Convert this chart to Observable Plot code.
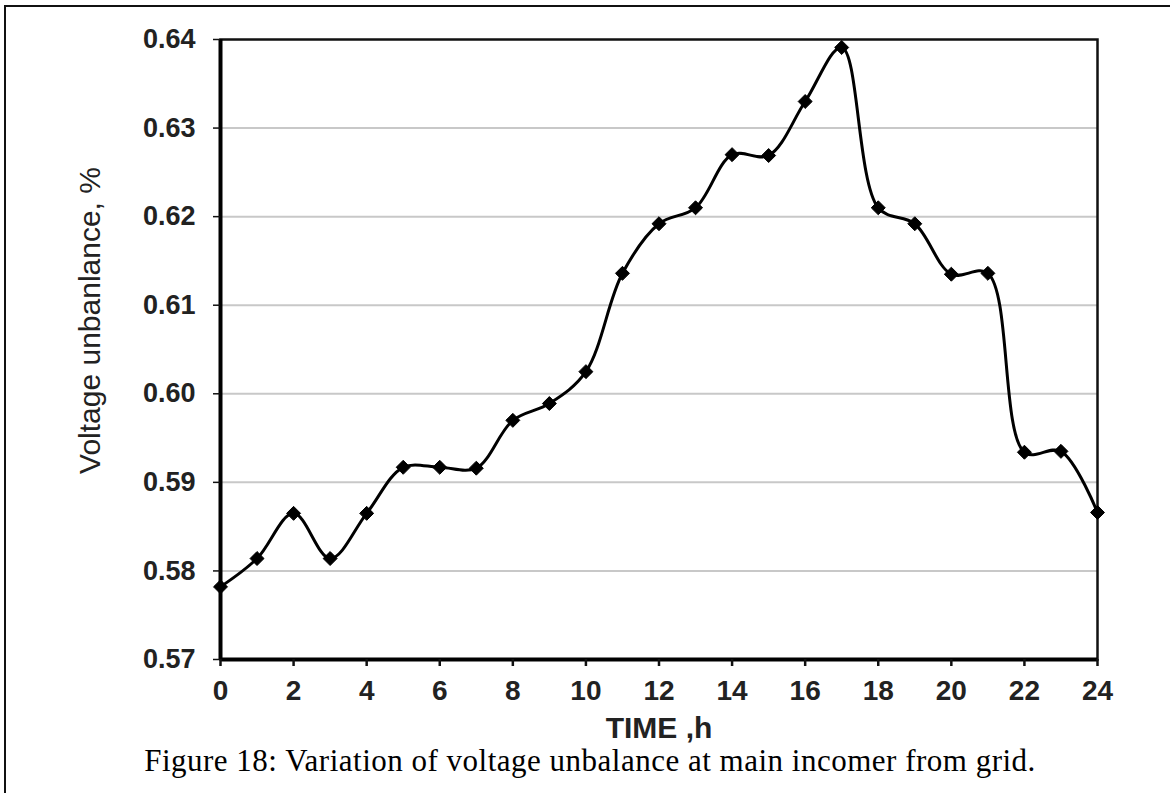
<!DOCTYPE html>
<html>
<head>
<meta charset="utf-8">
<script src="https://cdn.jsdelivr.net/npm/d3@7"></script>
<script src="https://cdn.jsdelivr.net/npm/@observablehq/plot@0.6"></script>
<style>
  html, body { margin: 0; padding: 0; background: #fff; }
  #page { position: relative; width: 1170px; height: 793px; overflow: hidden; }
  #border { position: absolute; left: 4px; top: 5px; width: 1200px; height: 900px;
            border-left: 2px solid #111; border-top: 2px solid #111; }
  #chart { position: absolute; left: 0; top: 0; }
  #caption { position: absolute; left: 10px; top: 745px; width: 1160px; text-align: center;
             font-family: "Liberation Serif", "Times New Roman", serif; font-size: 31px;
             letter-spacing: 0.5px; line-height: 31px; color: #000; white-space: nowrap; }
</style>
</head>
<body>
<div id="page">
  <div id="border"></div>
  <div id="chart"></div>
  <div id="caption">Figure 18: Variation of voltage unbalance at main incomer from grid.</div>
</div>
<script>
// Hourly readings of voltage unbalance (%) over one day
const hours = d3.range(0, 25);
const unbalance = [
  0.5782, 0.5814, 0.5865, 0.5814, 0.5865, 0.5917, 0.5917, 0.5916, 0.5970,
  0.5989, 0.6025, 0.6136, 0.6192, 0.6210, 0.6270, 0.6269, 0.6330, 0.6391,
  0.6210, 0.6192, 0.6135, 0.6136, 0.5934, 0.5935, 0.5866
];
const xTicks = [0, 2, 4, 6, 8, 10, 12, 14, 16, 18, 20, 22, 24];
const yTicks = [0.57, 0.58, 0.59, 0.60, 0.61, 0.62, 0.63, 0.64];
const gridLines = [0.58, 0.59, 0.60, 0.61, 0.62, 0.63];
const xTitle = "TIME ,h";
const yTitle = "Voltage unbanlance, %";

const data = hours.map((h, i) => ({hour: h, value: unbalance[i]}));
const sans = "'Liberation Sans', Arial, Helvetica, sans-serif";

const chart = Plot.plot({
  width: 1170,
  height: 749,
  marginLeft: 220,
  marginRight: 73,
  marginTop: 39,
  marginBottom: 90,
  style: {fontFamily: sans, fontSize: "27px", color: "#222", background: "transparent"},
  x: {domain: [0, 24]},
  y: {domain: [0.57, 0.64]},
  marks: [
    Plot.ruleY(gridLines, {stroke: "#c8c8c8", strokeWidth: 2}),
    Plot.frame({stroke: "#111", strokeWidth: 2.5}),
    Plot.ruleX([0], {stroke: "#000", strokeWidth: 4}),
    Plot.ruleY([0.57], {stroke: "#000", strokeWidth: 4}),
    Plot.axisX({ticks: xTicks, tickSize: 7, tickPadding: 14, tickFormat: d3.format("d"),
                label: null, fontWeight: "bold", fontSize: 28, stroke: "#111", strokeWidth: 2.5}),
    Plot.axisY({ticks: yTicks, tickSize: 7, tickPadding: 18, tickFormat: d3.format(".2f"),
                label: null, fontWeight: "bold", fontSize: 27, stroke: "#111", strokeWidth: 1.5}),
    Plot.line(data, {x: "hour", y: "value", curve: "catmull-rom", stroke: "#000", strokeWidth: 3}),
    Plot.dot(data, {x: "hour", y: "value", symbol: "diamond2", r: 6.3, fill: "#000", stroke: "#000", strokeWidth: 1}),
    Plot.text([xTitle], {frameAnchor: "bottom", dy: 69, lineAnchor: "middle", fontWeight: "bold",
                         fontSize: 30, fill: "#222"}),
    Plot.text([yTitle], {frameAnchor: "left", textAnchor: "middle", dx: -130, dy: -29, rotate: -90,
                         lineAnchor: "middle", fontSize: 30, fill: "#222"})
  ]
});
document.getElementById("chart").appendChild(chart);
</script>
</body>
</html>
